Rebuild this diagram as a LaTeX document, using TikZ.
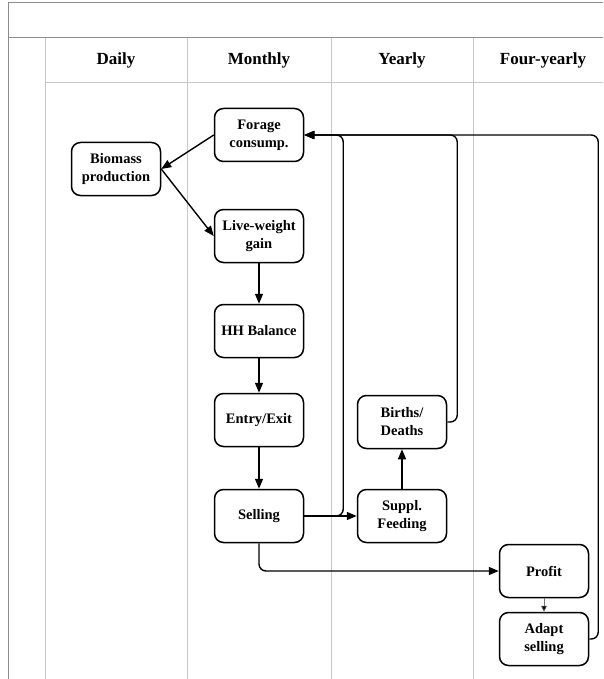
\documentclass[tikz,border=0pt]{standalone}
\usepackage{fontspec}
\setmainfont{Liberation Serif}
\usetikzlibrary{arrows.meta}

\begin{document}
\begin{tikzpicture}[x=1pt,y=-1pt,
  box/.style={draw, line width=1.5pt, rounded corners=9pt,
    minimum width=89pt, minimum height=53pt, align=center, inner sep=2pt,
    font=\bfseries\fontsize{14.5}{18}\selectfont},
  head/.style={font=\bfseries\fontsize{17}{20}\selectfont},
  flow/.style={line width=1.4pt, -{Triangle[length=10pt,width=8pt]}},
  back/.style={flow, rounded corners=7pt},
  frame/.style={draw=black!45, line width=1pt},
  lane/.style={draw=black!22, line width=1pt}]
\useasboundingbox (0,0) rectangle (603,679);

% table frame and swim lanes
\draw[frame] (8,679) -- (8,3) -- (603,3);
\draw[frame] (8,38) -- (603,38);
\foreach \x in {45,187,331,473} \draw[lane] (\x,38) -- (\x,679);
\draw[lane] (45,83) -- (603,83);

% lane headings
\node[head] (hd) at (116,60) {Daily};
\node[head] (hm) at (259,60) {Monthly};
\node[head] (hy) at (402,60) {Yearly};
\node[head] (hf) at (543,60) {Four-yearly};

% process steps
\node[box] (forage)  at (259,135) {Forage\\consump.};
\node[box] (biomass) at (116,169) {Biomass\\production};
\node[box] (lwg)     at (259,236) {Live-weight\\gain};
\node[box] (hh)      at (259,331) {HH Balance};
\node[box] (entry)   at (259,420) {Entry/Exit};
\node[box] (sell)    at (259,516) {Selling};
\node[box] (births)  at (402,422) {Births/\\Deaths};
\node[box] (suppl)   at (402,516) {Suppl.\\Feeding};
\node[box] (profit)  at (544,571) {Profit};
\node[box] (adapt)   at (544,639) {Adapt\\selling};

% main flow
\draw[flow] (forage.west) -- (biomass.east);
\draw[flow] (biomass.east) -- (lwg.west);
\draw[flow] (lwg) -- (hh);
\draw[flow] (hh) -- (entry);
\draw[flow] (entry) -- (sell);
\draw[flow] (sell) -- (suppl);
\draw[flow] (suppl) -- (births);
\draw[back] (sell.south) |- (profit.west);
\draw[line width=0.6pt, draw=black!55, -{Triangle[length=6pt,width=6pt,fill=black]}] (profit) -- (adapt);

% feedback loops into forage consumption
\draw[back] (sell.east) -- ++(39,0) |- (forage.east);
\draw[back] (births.east) -- ++(10,0) |- (forage.east);
\draw[back] (adapt.east) -- ++(9,0) |- (forage.east);
\end{tikzpicture}
\end{document}
